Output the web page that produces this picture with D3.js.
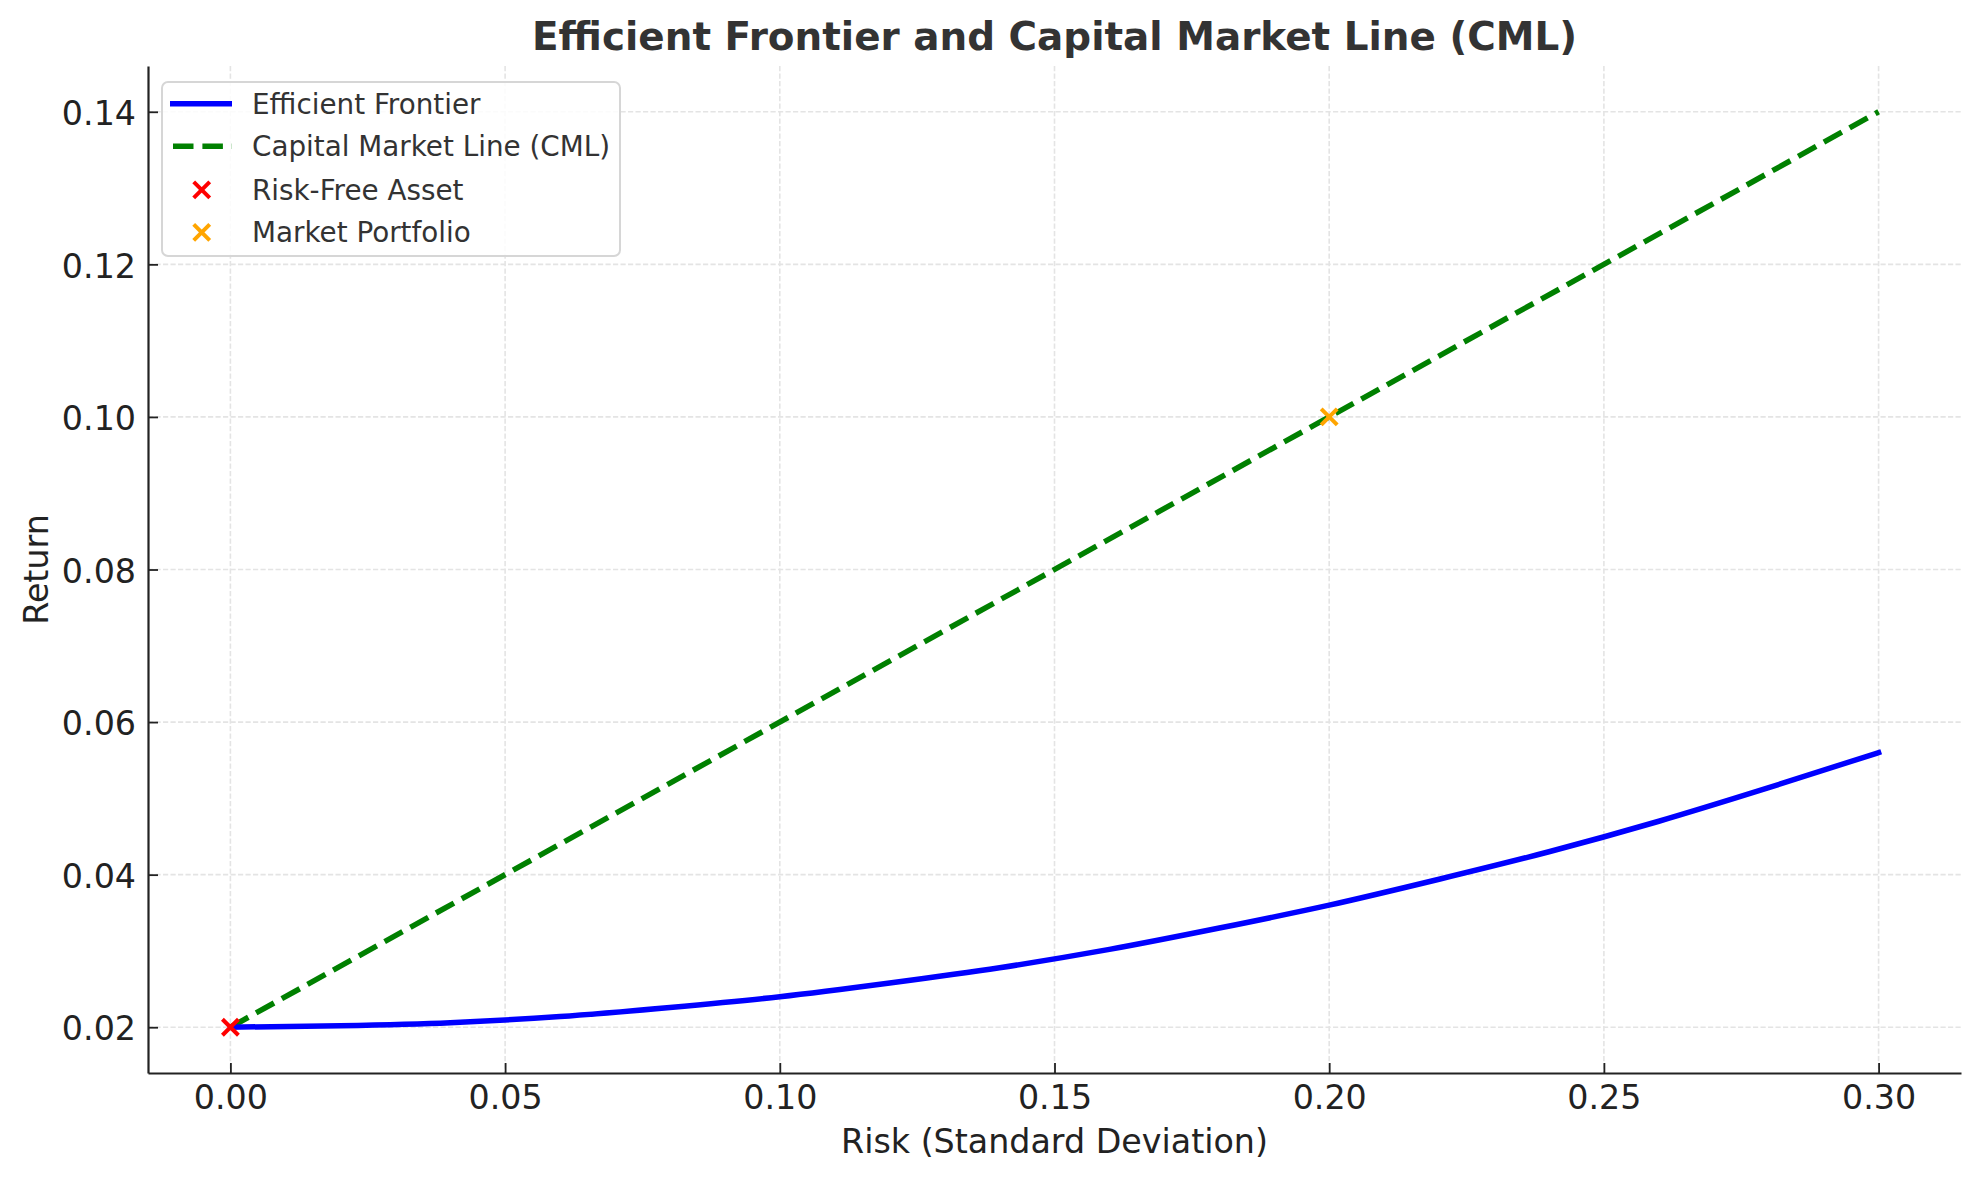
<!DOCTYPE html>
<html>
<head>
<meta charset="utf-8">
<script src="https://cdn.jsdelivr.net/npm/d3@7"></script>
<style>
  html, body { margin: 0; padding: 0; background: #fff; }
  svg { display: block; font-family: "DejaVu Sans", sans-serif; }
</style>
</head>
<body>
<svg id="chart" width="1979" height="1180"></svg>
<script>
// ---- data ----
const titleText = "Efficient Frontier and Capital Market Line (CML)";
const xLabelText = "Risk (Standard Deviation)";
const yLabelText = "Return";
const xTicks = [0.00, 0.05, 0.10, 0.15, 0.20, 0.25, 0.30];
const yTicks = [0.02, 0.04, 0.06, 0.08, 0.10, 0.12, 0.14];

const frontierRisk   = [0.00, 0.02, 0.04, 0.06, 0.08, 0.10, 0.12, 0.14, 0.16, 0.18, 0.20, 0.22, 0.24, 0.26, 0.28, 0.30];
const frontierReturn = [0.0200, 0.0202, 0.0206, 0.0214, 0.0226, 0.0240, 0.0258, 0.0278, 0.0302, 0.0330, 0.0360, 0.0394, 0.0430, 0.0470, 0.0514, 0.0560];

const cmlRisk   = [0.00, 0.30];
const cmlReturn = [0.02, 0.14];

const riskFreeRisk = [0.00];
const riskFreeReturn = [0.02];
const marketRisk = [0.20];
const marketReturn = [0.10];

const legendLabels = ["Efficient Frontier", "Capital Market Line (CML)", "Risk-Free Asset", "Market Portfolio"];

// ---- layout ----
const svg = d3.select("#chart");
const L = 148, R = 1961, T = 66, B = 1073;

const x = d3.scaleLinear().domain([-0.015, 0.315]).range([L, R]);
const y = d3.scaleLinear().domain([0.014, 0.146]).range([B, T]);

svg.append("rect").attr("width", 1979).attr("height", 1180).attr("fill", "#fff");

// grid
const grid = svg.append("g").attr("stroke", "#e4e4e4").attr("stroke-width", 1.6).attr("stroke-dasharray", "5.2,2.3");
grid.selectAll("line.v").data(xTicks).join("line")
  .attr("x1", d => x(d)).attr("x2", d => x(d)).attr("y1", T).attr("y2", B);
grid.selectAll("line.h").data(yTicks).join("line")
  .attr("y1", d => y(d)).attr("y2", d => y(d)).attr("x1", L).attr("x2", R);

// CML
const cmlData = cmlRisk.map((r, i) => [r, cmlReturn[i]]);
svg.append("path").datum(cmlData)
  .attr("d", d3.line().x(d => x(d[0])).y(d => y(d[1])))
  .attr("fill", "none").attr("stroke", "#008000").attr("stroke-width", 5.5)
  .attr("stroke-dasharray", "20.5,8.9").attr("stroke-linecap", "butt");

// Efficient frontier
const frontierData = frontierRisk.map((r, i) => [r, frontierReturn[i]]);
svg.append("path").datum(frontierData)
  .attr("d", d3.line().curve(d3.curveMonotoneX).x(d => x(d[0])).y(d => y(d[1])))
  .attr("fill", "none").attr("stroke", "#0000ff").attr("stroke-width", 5.5)
  .attr("stroke-linecap", "square").attr("stroke-linejoin", "round");

// markers
function xMark(cx, cy, r) {
  return `M${cx - r},${cy - r}L${cx + r},${cy + r}M${cx - r},${cy + r}L${cx + r},${cy - r}`;
}
const MR = 8;
svg.selectAll("path.rf").data(riskFreeRisk.map((r, i) => [r, riskFreeReturn[i]])).join("path")
  .attr("d", d => xMark(x(d[0]), y(d[1]), MR))
  .attr("stroke", "#ff0000").attr("stroke-width", 4).attr("fill", "none");
svg.selectAll("path.mp").data(marketRisk.map((r, i) => [r, marketReturn[i]])).join("path")
  .attr("d", d => xMark(x(d[0]), y(d[1]), MR))
  .attr("stroke", "#ffa500").attr("stroke-width", 4).attr("fill", "none");

// axes
const xAxis = d3.axisBottom(x).tickValues(xTicks).tickFormat(d3.format(".2f"))
  .tickSizeInner(-10).tickSizeOuter(0).tickPadding(12);
const gx = svg.append("g").attr("transform", `translate(0,${B})`).call(xAxis);
const yAxis = d3.axisLeft(y).tickValues(yTicks).tickFormat(d3.format(".2f"))
  .tickSizeInner(-10).tickSizeOuter(0).tickPadding(12);
const gy = svg.append("g").attr("transform", `translate(${L},0)`).call(yAxis);

[gx, gy].forEach(g => {
  g.select(".domain").attr("stroke", "#222").attr("stroke-width", 2.2);
  g.selectAll(".tick line").attr("stroke", "#222").attr("stroke-width", 1.8);
  g.selectAll(".tick text").attr("fill", "#222").attr("font-size", 33.3)
    .attr("font-family", "DejaVu Sans");
});
gy.selectAll(".tick text").attr("dy", "0.38em");

// title & labels
svg.append("text").attr("x", (L + R) / 2).attr("y", 50).attr("text-anchor", "middle")
  .attr("font-size", 38.9).attr("font-weight", "bold").attr("fill", "#333").text(titleText);
svg.append("text").attr("x", (L + R) / 2).attr("y", 1153).attr("text-anchor", "middle")
  .attr("font-size", 33.3).attr("fill", "#222").text(xLabelText);
svg.append("text").attr("transform", `translate(48,${(T + B) / 2}) rotate(-90)`)
  .attr("text-anchor", "middle").attr("font-size", 33.3).attr("fill", "#222").text(yLabelText);

// legend
const lg = svg.append("g");
lg.append("rect").attr("x", 162).attr("y", 82).attr("width", 458).attr("height", 174)
  .attr("rx", 6).attr("fill", "#fff").attr("fill-opacity", 0.85)
  .attr("stroke", "#d6d6d6").attr("stroke-width", 2);
const rowY = [103.7, 146.3, 189.9, 232.4];
lg.append("line").attr("x1", 170).attr("x2", 232).attr("y1", rowY[0]).attr("y2", rowY[0])
  .attr("stroke", "#0000ff").attr("stroke-width", 5.5);
lg.append("line").attr("x1", 173).attr("x2", 232).attr("y1", rowY[1]).attr("y2", rowY[1])
  .attr("stroke", "#008000").attr("stroke-width", 5.5).attr("stroke-dasharray", "20.5,8.9");
lg.append("path").attr("d", xMark(201.7, rowY[2], MR)).attr("stroke", "#ff0000").attr("stroke-width", 4);
lg.append("path").attr("d", xMark(201.7, rowY[3], MR)).attr("stroke", "#ffa500").attr("stroke-width", 4);
lg.selectAll("text").data(legendLabels).join("text")
  .attr("x", 252).attr("y", (d, i) => rowY[i]).attr("dy", "0.36em")
  .attr("font-size", 27.8).attr("fill", "#333").text(d => d);
</script>
</body>
</html>
